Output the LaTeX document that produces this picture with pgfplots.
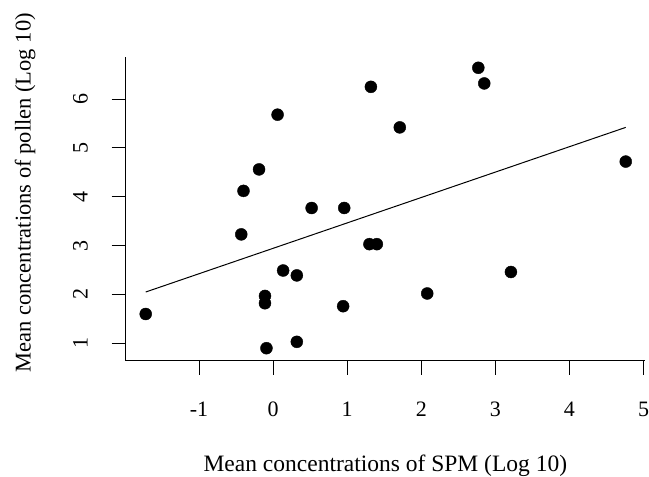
\documentclass[border=0pt]{standalone}
\usepackage{fontspec}
\setmainfont{Liberation Serif}
\usepackage{pgfplots}
\pgfplotsset{compat=1.18}
\begin{document}
\begin{tikzpicture}
\path[use as bounding box] (0,0) rectangle (649bp,477bp);
\begin{axis}[
  at={(125.7bp,116.3bp)}, anchor=south west,
  scale only axis, width=519.3bp, height=304bp,
  xmin=-1.99, xmax=5.02, ymin=0.644, ymax=6.867,
  axis x line*=bottom, axis y line*=left,
  axis line style={-, line width=1bp, black},
  tick style={line width=1bp, black},
  tick align=outside, major tick length=14bp,
  xtick={-1,0,1,2,3,4,5}, xticklabels={-1,0,1,2,3,4,5},
  ytick={1,2,3,4,5,6}, yticklabels={1,2,3,4,5,6},
  tick label style={font=\fontsize{22bp}{26bp}\selectfont},
  xticklabel style={anchor=base}, xticklabel shift=42bp,
  yticklabel style={rotate=90, anchor=base}, yticklabel shift=24bp,
  xlabel={Mean concentrations of SPM (Log 10)},
  ylabel={Mean concentrations of pollen (Log 10)},
  xlabel style={font=\fontsize{23.5bp}{27bp}\selectfont, at={(axis description cs:0.5,0)}, anchor=base, yshift=-110.3bp},
  ylabel style={font=\fontsize{22.5bp}{26bp}\selectfont, at={(axis description cs:-0.1939,0.552)}, anchor=center},
  clip=false,
]
\addplot[only marks, mark=*, mark size=6bp, black, mark options={fill=black}] coordinates {
(1.32,6.25) (0.06,5.68) (-0.19,4.56) (-0.40,4.12) (0.52,3.77) (0.96,3.77)
(-0.43,3.23) (1.71,5.42) (2.77,6.64) (2.85,6.32) (4.76,4.72) (-1.72,1.60)
(1.30,3.03) (1.40,3.03) (0.135,2.49) (0.32,2.39) (-0.11,1.97) (-0.11,1.82)
(0.945,1.76) (-0.09,0.90) (0.32,1.03) (2.08,2.02) (3.21,2.46)
};
\addplot[black, line width=1bp] coordinates {(-1.72,2.05) (4.76,5.42)};
\end{axis}
\end{tikzpicture}
\end{document}
